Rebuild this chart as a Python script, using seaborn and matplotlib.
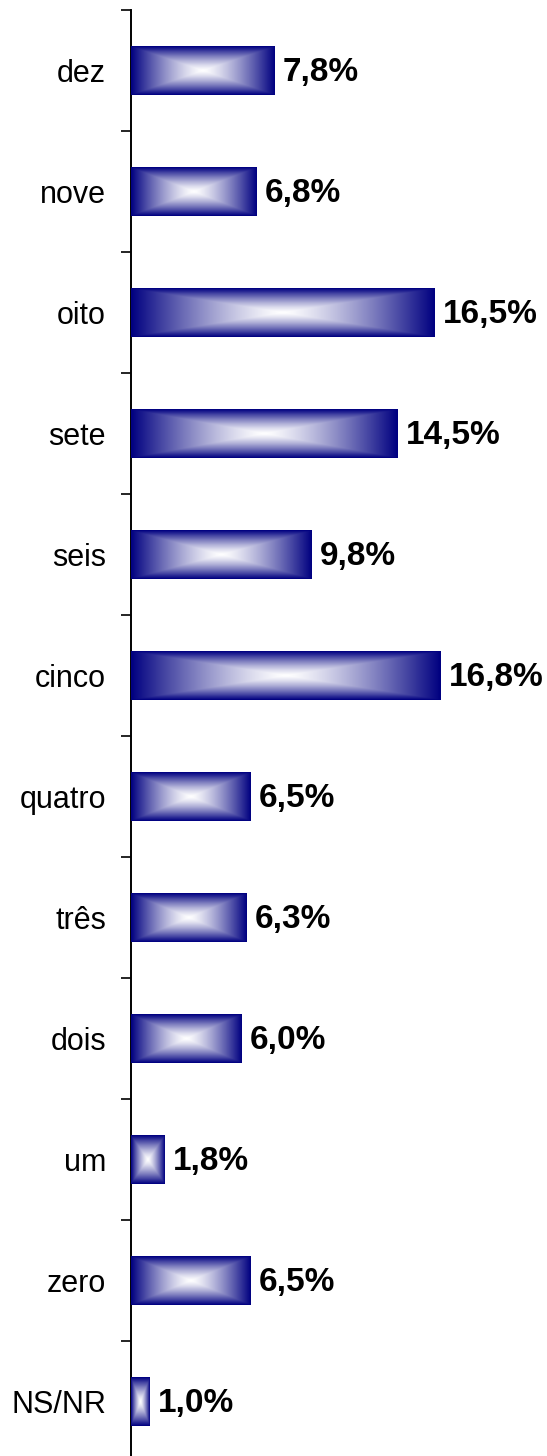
import matplotlib
matplotlib.use("Agg")
import matplotlib.pyplot as plt
import seaborn as sns
import numpy as np
import pandas as pd

categories = ["dez", "nove", "oito", "sete", "seis", "cinco",
              "quatro", "três", "dois", "um", "zero", "NS/NR"]
values = [7.8, 6.8, 16.5, 14.5, 9.8, 16.8, 6.5, 6.3, 6.0, 1.8, 6.5, 1.0]

df = pd.DataFrame({"categoria": categories, "pct": values})

sns.set_style("white")
plt.rcParams["font.family"] = ["Liberation Sans", "DejaVu Sans"]

W, H = 547, 1456
fig = plt.figure(figsize=(W / 100, H / 100), dpi=100)
ax = fig.add_axes([131 / W, -6 / H, 1 - 131 / W, 1452 / H])

sns.barplot(data=df, x="pct", y="categoria", orient="h", width=0.4,
            color="navy", ax=ax)

navy = np.array([0, 0, 128]) / 255.0
white = np.array([1.0, 1.0, 1.0])


def box_gradient(nx, ny):
    # rectangular "from centre" fill: white in the middle, navy at edges
    u = np.abs(np.linspace(-1, 1, nx))[None, :]
    v = np.abs(np.linspace(-1, 1, ny))[:, None]
    t = np.maximum(u, v) ** 1.3
    return white * (1 - t[..., None]) + navy * t[..., None]


for patch in ax.patches:
    x0, y0 = patch.get_x(), patch.get_y()
    w, h = patch.get_width(), patch.get_height()
    ax.imshow(box_gradient(240, 60), extent=(x0, x0 + w, y0, y0 + h),
              aspect="auto", interpolation="bilinear", zorder=3)
    patch.set_facecolor("none")
    patch.set_edgecolor("none")

for i, v in enumerate(values):
    ax.text(v + 0.45, i + 0.02, f"{v:.1f}%".replace(".", ","), va="center",
            ha="left", fontsize=24, fontweight="bold", color="black")

ax.set_xlim(0, 416 / 18.4)
ax.set_ylim(len(categories) - 0.5, -0.5)
ax.set_xlabel("")
ax.set_ylabel("")
ax.set_xticks([])
ax.set_yticks(np.arange(-0.5, len(categories), 1), minor=True)
ax.tick_params(axis="y", which="major", length=0, pad=18, labelsize=22,
               labelcolor="black")
ax.tick_params(axis="y", which="minor", length=7.2, width=1.2,
               direction="out", left=True, color="black")
for side in ["top", "right", "bottom"]:
    ax.spines[side].set_visible(False)
ax.spines["left"].set_color("black")
ax.spines["left"].set_linewidth(1.4)

fig.savefig("out.png", dpi=100)
